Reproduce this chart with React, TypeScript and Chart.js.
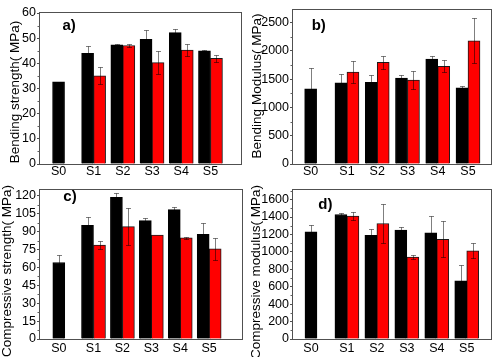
import React, { useEffect, useRef } from 'react';
import { Chart, registerables } from 'chart.js';

Chart.register(...registerables);

const FONT = "'Liberation Sans', Arial, Helvetica, sans-serif";

// ---- data ----
const categories = ['S0', 'S1', 'S2', 'S3', 'S4', 'S5'];
const xPositions = [0, 1.2, 2.2, 3.2, 4.2, 5.2];

// a) Bending strength (MPa)
const bendStrBlack = [32.7, 44.0, 47.4, 49.5, 52.2, 45.0];
const bendStrBlackErr = [0, 2.9, 0.3, 3.9, 1.3, 0.3];
const bendStrRed = [null, 35.0, 47.1, 40.3, 45.3, 42.0];
const bendStrRedErr = [null, 3.4, 0.7, 4.6, 2.5, 1.3];
const bendStrTicks = [0, 10, 20, 30, 40, 50, 60];

// b) Bending modulus (MPa)
const bendModBlack = [1329, 1435, 1441, 1518, 1853, 1347];
const bendModBlackErr = [360, 147, 124, 60, 59, 30];
const bendModRed = [null, 1624, 1794, 1482, 1724, 2176];
const bendModRedErr = [null, 188, 112, 153, 105, 395];
const bendModTicks = [0, 500, 1000, 1500, 2000, 2500];

// c) Compressive strength (MPa)
const compStrBlack = [64.2, 95.4, 118.9, 99.3, 108.6, 87.9];
const compStrBlackErr = [6.1, 6.7, 3.3, 2.6, 1.9, 9.8];
const compStrRed = [null, 78.7, 94.3, 87.1, 84.8, 75.6];
const compStrRedErr = [null, 3.6, 15.4, 0, 0.7, 9.0];
const compStrTicks = [0, 15, 30, 45, 60, 75, 90, 105, 120];

// d) Compressive modulus (MPa)
const compModBlack = [1230, 1429, 1189, 1250, 1219, 667];
const compModBlackErr = [84, 22, 72, 34, 190, 179];
const compModRed = [null, 1410, 1326, 941, 1143, 1013];
const compModRedErr = [null, 50, 221, 19, 206, 84];
const compModTicks = [0, 200, 400, 600, 800, 1000, 1200, 1400, 1600];

type Spec = {
  key: string;
  left: number; top: number; width: number; height: number;
  yAxisWidth: number; xAxisHeight: number; padTop: number; padRight: number; xLabelPad: number;
  xMin: number; xMax: number; yMax: number; yTicks: number[];
  black: (number | null)[]; blackErr: (number | null)[];
  red: (number | null)[]; redErr: (number | null)[];
  title: string; titleX: number; titleY: number;
  tag: string; tagX: number; tagY: number;
};

const panels: Spec[] = [
  {
    key: 'a', left: 0, top: 0, width: 250, height: 180,
    yAxisWidth: 40, xAxisHeight: 16, padTop: 13, padRight: 9, xLabelPad: 0,
    xMin: -0.635, xMax: 6.245, yMax: 60, yTicks: bendStrTicks,
    black: bendStrBlack, blackErr: bendStrBlackErr, red: bendStrRed, redErr: bendStrRedErr,
    title: 'Bending strength( MPa)', titleX: 15, titleY: 92,
    tag: 'a)', tagX: 62.5, tagY: 30,
  },
  {
    key: 'b', left: 250, top: 0, width: 250, height: 180,
    yAxisWidth: 43, xAxisHeight: 16, padTop: 10, padRight: 9, xLabelPad: 0,
    xMin: -0.583, xMax: 5.96, yMax: 2720, yTicks: bendModTicks,
    black: bendModBlack, blackErr: bendModBlackErr, red: bendModRed, redErr: bendModRedErr,
    title: 'Bending Modulus( MPa)', titleX: 7, titleY: 86,
    tag: 'b)', tagX: 61.7, tagY: 30,
  },
  {
    key: 'c', left: 0, top: 178, width: 250, height: 179,
    yAxisWidth: 40, xAxisHeight: 18, padTop: 12, padRight: 8, xLabelPad: 2,
    xMin: -0.65, xMax: 6.335, yMax: 125, yTicks: compStrTicks,
    black: compStrBlack, blackErr: compStrBlackErr, red: compStrRed, redErr: compStrRedErr,
    title: 'Compressive strength( MPa)', titleX: 7.5, titleY: 93,
    tag: 'c)', tagX: 63.3, tagY: 23,
  },
  {
    key: 'd', left: 250, top: 178, width: 250, height: 179,
    yAxisWidth: 43, xAxisHeight: 18, padTop: 12, padRight: 9, xLabelPad: 2,
    xMin: -0.6, xMax: 6.01, yMax: 1710, yTicks: compModTicks,
    black: compModBlack, blackErr: compModBlackErr, red: compModRed, redErr: compModRedErr,
    title: 'Compressive modulus( MPa)', titleX: 6, titleY: 94,
    tag: 'd)', tagX: 68.3, tagY: 31,
  },
];

function makeDecor(spec: Spec) {
  return {
    id: 'decor_' + spec.key,
    afterDatasetsDraw(chart: any) {
      const ctx = chart.ctx as CanvasRenderingContext2D;
      const yS = chart.scales.y;
      const errs = [spec.blackErr, spec.redErr];
      const vals = [spec.black, spec.red];
      ctx.save();
      ctx.strokeStyle = 'rgba(0,0,0,0.5)';
      ctx.lineWidth = 1;
      for (let di = 0; di < 2; di++) {
        const meta = chart.getDatasetMeta(di);
        meta.data.forEach((el: any, i: number) => {
          const v = vals[di][i];
          const e = errs[di][i];
          if (v == null || !e) return;
          const x = Math.round(el.x) + 0.5;
          const yt = Math.round(yS.getPixelForValue(v + e)) + 0.5;
          const yb = Math.round(yS.getPixelForValue(v - e)) + 0.5;
          ctx.beginPath();
          ctx.moveTo(x, yt);
          ctx.lineTo(x, yb);
          ctx.moveTo(x - 2.5, yt);
          ctx.lineTo(x + 2.5, yt);
          ctx.moveTo(x - 2.5, yb);
          ctx.lineTo(x + 2.5, yb);
          ctx.stroke();
        });
      }
      ctx.restore();
    },
    afterDraw(chart: any) {
      const ctx = chart.ctx as CanvasRenderingContext2D;
      const ca = chart.chartArea;
      const yS = chart.scales.y;
      ctx.save();
      // frame
      ctx.strokeStyle = '#505050';
      ctx.lineWidth = 1;
      const l = Math.round(ca.left) - 0.5;
      const t = Math.round(ca.top) - 0.5;
      const r = Math.round(ca.right) + 0.5;
      const b = Math.round(ca.bottom) + 0.5;
      ctx.strokeRect(l, t, r - l, b - t);
      // minor ticks
      const tk = spec.yTicks;
      const step = tk[1] - tk[0];
      ctx.strokeStyle = '#606060';
      ctx.beginPath();
      for (let v = step / 2; v <= spec.yMax; v += step) {
        if (tk.indexOf(v) >= 0) continue;
        const y = Math.round(yS.getPixelForValue(v)) + 0.5;
        ctx.moveTo(l - 2, y);
        ctx.lineTo(l, y);
      }
      ctx.stroke();
      // axis title
      ctx.fillStyle = '#000';
      ctx.font = `13.5px ${FONT}`;
      ctx.textAlign = 'center';
      ctx.textBaseline = 'middle';
      ctx.translate(spec.titleX, spec.titleY);
      ctx.rotate(-Math.PI / 2);
      ctx.fillText(spec.title, 0, 0);
      ctx.restore();
      // tag
      ctx.save();
      ctx.fillStyle = '#000';
      ctx.font = `bold 15px ${FONT}`;
      ctx.textAlign = 'left';
      ctx.textBaseline = 'alphabetic';
      ctx.fillText(spec.tag, spec.tagX, spec.tagY);
      ctx.restore();
    },
  };
}

function Panel({ spec }: { spec: Spec }) {
  const ref = useRef<HTMLCanvasElement | null>(null);
  useEffect(() => {
    if (!ref.current) return;
    const chart = new Chart(ref.current, {
      type: 'bar',
      data: {
        datasets: [
          {
            data: xPositions.map((x, i) => ({ x, y: spec.black[i] })) as any,
            backgroundColor: '#000000',
            borderColor: '#000000',
            borderWidth: 1,
            barThickness: 12,
            skipNull: true,
          } as any,
          {
            data: xPositions.map((x, i) => ({ x, y: spec.red[i] })) as any,
            backgroundColor: '#ff0000',
            borderColor: '#1a1a1a',
            borderWidth: 1,
            barThickness: 12,
            skipNull: true,
          } as any,
        ],
      },
      options: {
        responsive: false,
        animation: false,
        devicePixelRatio: 1,
        layout: { padding: { left: 0, top: spec.padTop, right: spec.padRight, bottom: 0 } },
        plugins: { legend: { display: false }, tooltip: { enabled: false } },
        scales: {
          x: {
            type: 'linear',
            min: spec.xMin,
            max: spec.xMax,
            offset: false,
            grid: { display: false, drawTicks: false, tickLength: 0 },
            border: { display: false },
            afterBuildTicks: (s: any) => {
              s.ticks = xPositions.map((v) => ({ value: v }));
            },
            afterFit: (s: any) => {
              s.height = spec.xAxisHeight;
            },
            ticks: {
              autoSkip: false,
              maxRotation: 0,
              padding: spec.xLabelPad,
              color: '#000',
              font: { family: FONT, size: 12.5 },
              callback: (_v: any, i: number) => categories[i],
            },
          },
          y: {
            type: 'linear',
            min: 0,
            max: spec.yMax,
            grid: { drawOnChartArea: false, drawTicks: true, tickLength: 3, color: '#505050' },
            border: { display: false },
            afterBuildTicks: (s: any) => {
              s.ticks = spec.yTicks.map((v) => ({ value: v }));
            },
            afterFit: (s: any) => {
              s.width = spec.yAxisWidth;
            },
            ticks: {
              padding: 1,
              color: '#000',
              font: { family: FONT, size: 12.5 },
              callback: (v: any) => String(v),
            },
          },
        },
      } as any,
      plugins: [makeDecor(spec)],
    });
    return () => chart.destroy();
  }, [spec]);
  return (
    <canvas
      ref={ref}
      width={spec.width}
      height={spec.height}
      style={{ position: 'absolute', left: spec.left, top: spec.top, width: spec.width, height: spec.height }}
    />
  );
}

export default function App() {
  return (
    <div style={{ position: 'absolute', left: 0, top: 0, width: 500, height: 357, background: '#fff', overflow: 'hidden' }}>
      {panels.map((p) => (
        <Panel key={p.key} spec={p} />
      ))}
    </div>
  );
}
